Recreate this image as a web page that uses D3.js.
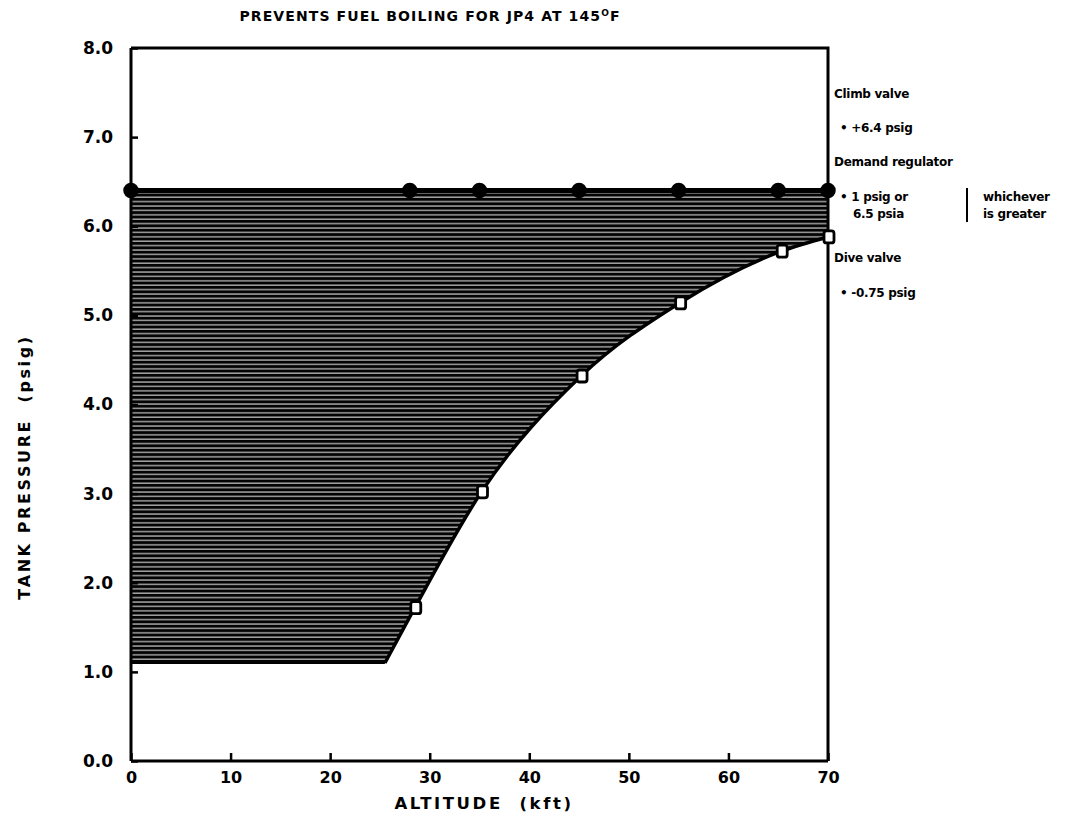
<!DOCTYPE html>
<html>
<head>
<meta charset="utf-8">
<script src="https://cdn.jsdelivr.net/npm/d3@7"></script>
<style>
  html, body { margin: 0; padding: 0; background: #fff; }
  svg { display: block; }
  text { font-family: "DejaVu Sans", "Liberation Sans", Arial, sans-serif; font-weight: bold; fill: #000; }
</style>
</head>
<body>
<svg id="chart" width="1084" height="816"></svg>
<script>
// ---- data ----
const altitudeTicks = [0, 10, 20, 30, 40, 50, 60, 70];
const pressureTicks = [0, 1, 2, 3, 4, 5, 6, 7, 8];
const climbAltitudes = [0, 28, 35, 45, 55, 65, 70];
const climbPressure = 6.4;
const boilAltitudes = [25.5, 28.5, 35.2, 45.2, 55.1, 65.3, 70];
const boilPressures = [1.1, 1.72, 3.02, 4.32, 5.14, 5.72, 5.88];
const markedBoilIdx = [1, 2, 3, 4, 5, 6];
const floorPressure = 1.1;
const floorAltitudes = [0, 25.5];

const title = "PREVENTS FUEL BOILING FOR JP4 AT 145";
const xTitle = "ALTITUDE  (kft)";
const yTitle = "TANK PRESSURE  (psig)";

// ---- layout ----
const svg = d3.select("#chart");
const x = d3.scaleLinear().domain([0, 70]).range([131, 828]);
const y = d3.scaleLinear().domain([0, 8]).range([761, 48]);
const FONT = "DejaVu Sans, Liberation Sans, Arial, sans-serif";

// hatch pattern (horizontal lines)
const defs = svg.append("defs");
const pat = defs.append("pattern").attr("id", "hatch")
  .attr("patternUnits", "userSpaceOnUse").attr("width", 200).attr("height", 4.4);
pat.append("rect").attr("width", 200).attr("height", 4.4).attr("fill", "#030303");
pat.append("rect").attr("x", 0).attr("y", 3.1).attr("width", 200).attr("height", 1.0).attr("fill", "#f0f0f0");

// shaded region: flat floor part + curved part
svg.append("rect")
  .attr("x", x(floorAltitudes[0]))
  .attr("y", y(climbPressure))
  .attr("width", x(floorAltitudes[1]) - x(floorAltitudes[0]) + 1)
  .attr("height", y(floorPressure) - y(climbPressure))
  .attr("fill", "url(#hatch)");

const boilPts = boilAltitudes.map((a, i) => [a, boilPressures[i]]);
svg.append("path")
  .datum(boilPts)
  .attr("d", d3.area().x(d => x(d[0])).y0(d => y(d[1])).y1(y(climbPressure)).curve(d3.curveMonotoneX))
  .attr("fill", "url(#hatch)");

// floor line
svg.append("line")
  .attr("x1", x(floorAltitudes[0])).attr("x2", x(floorAltitudes[1]))
  .attr("y1", y(floorPressure)).attr("y2", y(floorPressure))
  .attr("stroke", "#000").attr("stroke-width", 2);

// boil curve
svg.append("path")
  .datum(boilPts)
  .attr("d", d3.line().x(d => x(d[0])).y(d => y(d[1])).curve(d3.curveMonotoneX))
  .attr("fill", "none").attr("stroke", "#000").attr("stroke-width", 3.5);

// axes
const xAxis = d3.axisBottom(x).tickValues(altitudeTicks).tickSize(-8).tickPadding(11).tickFormat(d3.format("d"));
const gx = svg.append("g").attr("transform", `translate(0,${y(0)})`).call(xAxis);
gx.select(".domain").attr("stroke-width", 3).attr("d", `M${x(0)},0H${x(70)}`);
gx.selectAll(".tick line").attr("stroke-width", 2.5);
gx.selectAll(".tick text").attr("font-size", 16).attr("font-family", FONT).attr("font-weight", "bold");

const yAxis = d3.axisLeft(y).tickValues(pressureTicks).tickSize(-7).tickPadding(18).tickFormat(d3.format(".1f"));
const gy = svg.append("g").attr("transform", `translate(${x(0)},0)`).call(yAxis);
gy.select(".domain").attr("stroke-width", 3).attr("d", `M0,${y(0)}V${y(8)}`);
gy.selectAll(".tick line").attr("stroke-width", 2.5);
gy.selectAll(".tick text").attr("font-size", 17).attr("font-family", FONT).attr("font-weight", "bold");

// frame top + right
svg.append("path")
  .attr("d", `M${x(0)},${y(8)}H${x(70)}V${y(0)}`)
  .attr("fill", "none").attr("stroke", "#000").attr("stroke-width", 3);

// climb valve line
svg.append("line")
  .attr("x1", x(0)).attr("x2", x(70))
  .attr("y1", y(climbPressure)).attr("y2", y(climbPressure))
  .attr("stroke", "#000").attr("stroke-width", 5);

svg.selectAll("circle.climb")
  .data(climbAltitudes).enter().append("circle")
  .attr("class", "climb")
  .attr("cx", d => x(d)).attr("cy", y(climbPressure)).attr("r", 7)
  .attr("fill", "#000").attr("stroke", "#000").attr("stroke-width", 1.5);

svg.selectAll("rect.boil")
  .data(markedBoilIdx.map(i => boilPts[i])).enter().append("rect")
  .attr("class", "boil")
  .attr("x", d => x(d[0]) - 4).attr("y", d => y(d[1]) - 6)
  .attr("width", 10).attr("height", 12).attr("rx", 2.5)
  .attr("fill", "#fff").attr("stroke", "#000").attr("stroke-width", 2.8);

// titles
const t = svg.append("text").attr("x", 430).attr("y", 21).attr("text-anchor", "middle")
  .attr("font-size", 14).attr("letter-spacing", 1.1);
t.append("tspan").text(title);
t.append("tspan").attr("font-size", 9).attr("dy", -5).text("O");
t.append("tspan").attr("dy", 5).text("F");

svg.append("text").attr("x", 484).attr("y", 809).attr("text-anchor", "middle")
  .attr("font-size", 16.5).attr("letter-spacing", 2.6).attr("xml:space", "preserve").text(xTitle);

svg.append("text").attr("transform", "translate(30,467) rotate(-90)").attr("text-anchor", "middle")
  .attr("font-size", 16).attr("letter-spacing", 2.6).attr("xml:space", "preserve").text(yTitle);

// annotations
const notes = [
  ["Climb valve", 834, 98],
  ["\u2022 +6.4 psig", 840, 132],
  ["Demand regulator", 834, 166],
  ["\u2022 1 psig or", 840, 201],
  ["6.5 psia", 853, 218],
  ["whichever", 983, 201],
  ["is greater", 983, 218],
  ["Dive valve", 834, 262],
  ["\u2022 -0.75 psig", 840, 297]
];
svg.selectAll("text.note").data(notes).enter().append("text")
  .attr("class", "note")
  .attr("x", d => d[1]).attr("y", d => d[2])
  .attr("font-size", 12).attr("letter-spacing", -0.3).text(d => d[0]);

svg.append("line").attr("x1", 967).attr("x2", 967).attr("y1", 188).attr("y2", 222)
  .attr("stroke", "#000").attr("stroke-width", 2);
</script>
</body>
</html>
